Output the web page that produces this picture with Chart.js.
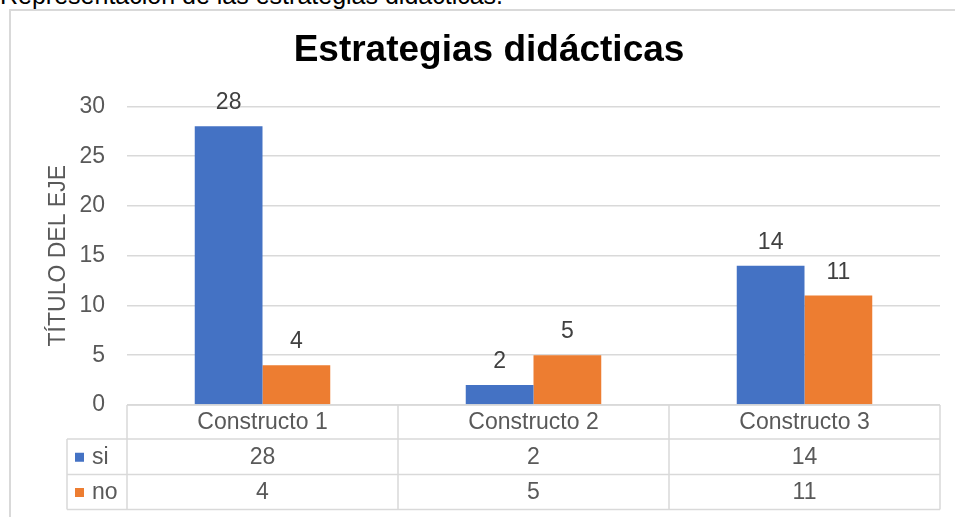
<!DOCTYPE html>
<html>
<head>
<meta charset="utf-8">
<script src="https://cdn.jsdelivr.net/npm/chart.js@4"></script>
<style>
  body { margin: 0; background: #fff; overflow: hidden; }
  #wrap { position: relative; width: 955px; height: 517px; }
  #caption { position: absolute; left: 0; top: -17px; font: 25px "Liberation Sans", Arial, sans-serif; line-height: 25px; color: #000; white-space: nowrap; }
  #frame { position: absolute; left: 9px; top: 9px; width: 980px; height: 540px; border: 2px solid #d9d9d9; }
  canvas { position: absolute; left: 0; top: 0; }
</style>
</head>
<body>
<div id="wrap">
  <div id="caption">Representación de las estrategias didácticas.</div>
  <div id="frame"></div>
  <canvas id="chart" width="955" height="517"></canvas>
</div>
<script>
const categories = ['Constructo 1', 'Constructo 2', 'Constructo 3'];
const siValues = [28, 2, 14];
const noValues = [4, 5, 11];
const seriesNames = ['si', 'no'];
const yTicks = [0, 5, 10, 15, 20, 25, 30];

const FONT = '"Liberation Sans", Arial, sans-serif';
const GRID = '#d9d9d9';

// value labels above the bars
const barLabels = {
  id: 'barLabels',
  afterDatasetsDraw(chart) {
    const ctx = chart.ctx;
    ctx.save();
    ctx.font = '23px ' + FONT;
    ctx.fillStyle = '#404040';
    ctx.textAlign = 'center';
    ctx.textBaseline = 'alphabetic';
    chart.data.datasets.forEach((ds, i) => {
      chart.getDatasetMeta(i).data.forEach((bar, j) => {
        ctx.fillText(ds.data[j], bar.x, bar.y - 17);
      });
    });
    ctx.restore();
  }
};

// data table under the plot (like the excel one)
const dataTable = {
  id: 'dataTable',
  afterDraw(chart) {
    const ctx = chart.ctx;
    const area = chart.chartArea;
    const x = chart.scales.x;
    const colW = (area.right - area.left) / categories.length;
    const legL = area.left - 60;
    const rows = [area.bottom, area.bottom + 34, area.bottom + 69.5, area.bottom + 104.5];

    ctx.save();
    ctx.strokeStyle = GRID;
    ctx.lineWidth = 1.5;
    ctx.beginPath();
    ctx.moveTo(area.left, rows[0]); ctx.lineTo(area.right, rows[0]);
    for (let r = 1; r < rows.length; r++) {
      ctx.moveTo(legL, rows[r]); ctx.lineTo(area.right, rows[r]);
    }
    ctx.moveTo(legL, rows[1]); ctx.lineTo(legL, rows[3]);
    for (let c = 0; c <= categories.length; c++) {
      const cx = area.left + c * colW;
      ctx.moveTo(cx, rows[0]); ctx.lineTo(cx, rows[3]);
    }
    ctx.stroke();

    ctx.font = '23px ' + FONT;
    ctx.fillStyle = '#595959';
    ctx.textAlign = 'center';
    ctx.textBaseline = 'middle';
    categories.forEach((c, i) => {
      ctx.fillText(c, x.getPixelForValue(i), (rows[0] + rows[1]) / 2 + 1);
    });
    chart.data.datasets.forEach((ds, r) => {
      const cy = (rows[r + 1] + rows[r + 2]) / 2 + 1;
      ds.data.forEach((v, i) => {
        ctx.fillText(v, x.getPixelForValue(i), cy);
      });
      ctx.fillStyle = ds.backgroundColor;
      ctx.fillRect(legL + 8, cy - 5, 9, 9);
      ctx.fillStyle = '#595959';
      ctx.textAlign = 'left';
      ctx.fillText(ds.label, legL + 25, cy);
      ctx.textAlign = 'center';
    });
    ctx.restore();
  }
};

new Chart(document.getElementById('chart'), {
  type: 'bar',
  data: {
    labels: categories,
    datasets: [
      { label: seriesNames[0], data: siValues, backgroundColor: '#4472C4', categoryPercentage: 0.5, barPercentage: 1 },
      { label: seriesNames[1], data: noValues, backgroundColor: '#ED7D31', categoryPercentage: 0.5, barPercentage: 1 }
    ]
  },
  options: {
    responsive: false,
    animation: false,
    layout: { padding: { left: 38, right: 15, top: 0, bottom: 112 } },
    plugins: {
      legend: { display: false },
      tooltip: { enabled: false },
      title: {
        display: true,
        text: 'Estrategias didácticas',
        color: '#000',
        font: { family: FONT, size: 37, weight: 'bold' },
        padding: { top: 29, bottom: 33 }
      }
    },
    scales: {
      x: { display: false },
      y: {
        min: 0,
        max: 30,
        afterBuildTicks(scale) { scale.ticks = yTicks.map(v => ({ value: v })); },
        afterFit(scale) { scale.width = 89; },
        border: { display: false },
        grid: { color: GRID, lineWidth: 1.5, drawTicks: false },
        ticks: { color: '#595959', font: { family: FONT, size: 23 }, padding: 22 },
        title: {
          display: true,
          text: 'TÍTULO DEL EJE',
          color: '#595959',
          font: { family: FONT, size: 23 },
          padding: { top: 7, bottom: 0 }
        }
      }
    }
  },
  plugins: [barLabels, dataTable]
});
</script>
</body>
</html>
